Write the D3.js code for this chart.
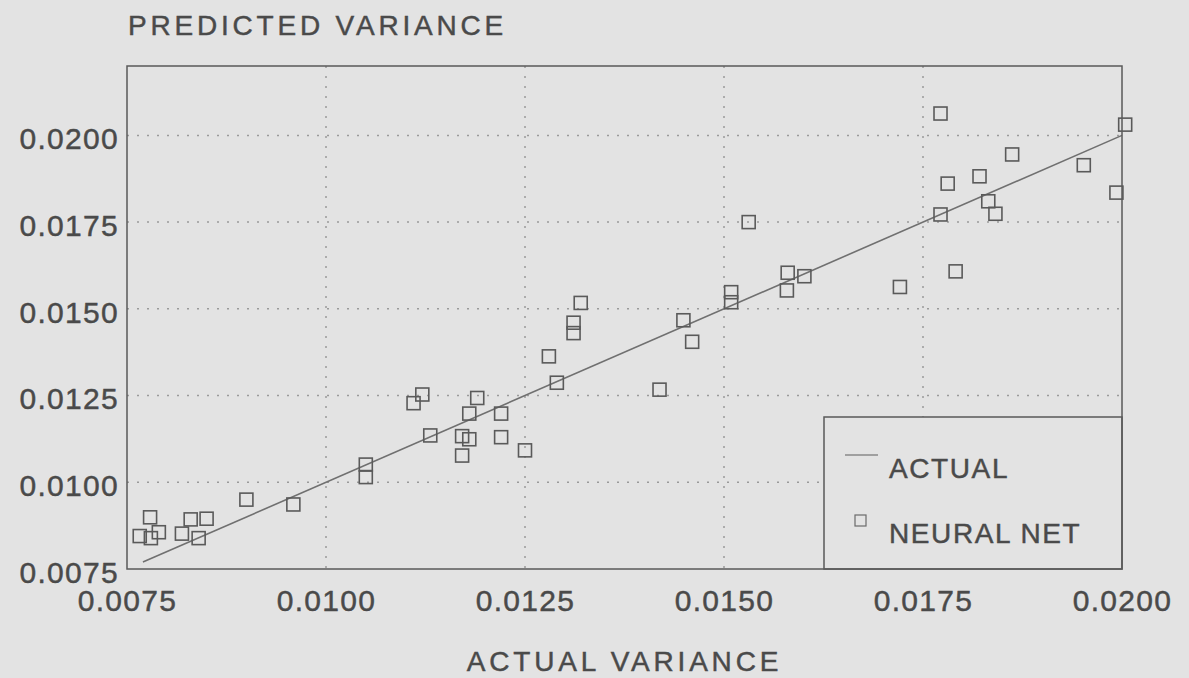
<!DOCTYPE html>
<html lang="en">
<head>
	<meta charset="UTF-8">
	<title>Predicted vs Actual Variance</title>
	<script src="https://cdn.jsdelivr.net/npm/d3@7"></script>
	<style>
		html, body {
			margin: 0;
			padding: 0;
			background: #e3e3e3;
		}

		svg text {
			font-family: "Liberation Sans", Arial, sans-serif;
			fill: #4a4a4a;
			stroke: #4a4a4a;
			stroke-width: 0.45px;
		}

		.tick text {
			font-size: 30px;
			letter-spacing: 1.3px;
		}

		.axis-title {
			font-size: 28px;
			letter-spacing: 3.8px;
		}

		.legend text {
			font-size: 28px;
			letter-spacing: 1.6px;
		}
	</style>
</head>
<body>
<div id="viz"></div>

<script type="text/javascript">
	// values
	let actualVar = [0.00766, 0.00779, 0.00780, 0.00790, 0.00819, 0.00830, 0.00840, 0.00850, 0.00900, 0.00959,
		0.01050, 0.01050, 0.01110, 0.01121, 0.01131, 0.01171, 0.01171, 0.01180, 0.01180, 0.01190,
		0.01220, 0.01220, 0.01250, 0.01280, 0.01290, 0.01311, 0.01311, 0.01320, 0.01419, 0.01449,
		0.01460, 0.01509, 0.01509, 0.01531, 0.01579, 0.01580, 0.01601, 0.01721, 0.01772, 0.01772,
		0.01781, 0.01791, 0.01821, 0.01832, 0.01841, 0.01862, 0.01952, 0.01993, 0.02004];

	let predictedVar = [0.00845, 0.00899, 0.00839, 0.00856, 0.00852, 0.00893, 0.00839, 0.00895, 0.00950, 0.00936,
		0.01051, 0.01015, 0.01228, 0.01253, 0.01135, 0.01133, 0.01077, 0.01198, 0.01124, 0.01243,
		0.01198, 0.01130, 0.01092, 0.01363, 0.01287, 0.01460, 0.01430, 0.01517, 0.01267, 0.01467,
		0.01405, 0.01548, 0.01519, 0.01750, 0.01553, 0.01604, 0.01594, 0.01563, 0.02063, 0.01772,
		0.01861, 0.01608, 0.01882, 0.01810, 0.01774, 0.01945, 0.01914, 0.01835, 0.02031];

	// the "actual" line is y = x between these two values
	let lineEnds = [0.0077, 0.0200];

	let xTicks = [0.0075, 0.0100, 0.0125, 0.0150, 0.0175, 0.0200];
	let yTicks = [0.0075, 0.0100, 0.0125, 0.0150, 0.0175, 0.0200];
	let xDomain = [0.0075, 0.0200];
	let yDomain = [0.0075, 0.0220];

	let legendLabels = ['ACTUAL', 'NEURAL NET'];
	let xTitle = 'ACTUAL VARIANCE',
		yTitle = 'PREDICTED VARIANCE';

	window.onload = () => {

		let margin = {top: 66, left: 127, bottom: 109, right: 67};
		let fullW = 1189, fullH = 678;
		let width = fullW - margin.left - margin.right;
		let height = fullH - margin.top - margin.bottom;

		let ink = '#5a5a5a';

		let x = d3.scaleLinear()
			.domain(xDomain)
			.range([0, width]);

		let y = d3.scaleLinear()
			.domain(yDomain)
			.range([height, 0]);

		let fmt = d3.format('.4f');

		let svg = d3.select('#viz')
			.append('svg')
			.attr('width', fullW)
			.attr('height', fullH);

		svg.append('rect')
			.attr('width', fullW)
			.attr('height', fullH)
			.attr('fill', '#e3e3e3');

		let g = svg.append('g')
			.attr('transform', 'translate(' + margin.left + ',' + margin.top + ')');

		// dotted grid
		g.selectAll('.vgrid')
			.data(xTicks.slice(1, -1))
			.enter().append('line')
			.attr('class', 'vgrid')
			.attr('x1', (d) => x(d))
			.attr('x2', (d) => x(d))
			.attr('y1', 0)
			.attr('y2', height)
			.attr('stroke', '#9a9a9a')
			.attr('stroke-width', 1.5)
			.attr('stroke-dasharray', '2,8');

		g.selectAll('.hgrid')
			.data(yTicks.slice(1))
			.enter().append('line')
			.attr('class', 'hgrid')
			.attr('x1', 0)
			.attr('x2', width)
			.attr('y1', (d) => y(d))
			.attr('y2', (d) => y(d))
			.attr('stroke', '#9a9a9a')
			.attr('stroke-width', 1.5)
			.attr('stroke-dasharray', '2,8');

		// axes (labels only, frame drawn separately)
		let xAxis = d3.axisBottom(x)
			.tickValues(xTicks)
			.tickFormat(fmt)
			.tickSize(0)
			.tickPadding(21);

		let yAxis = d3.axisLeft(y)
			.tickValues(yTicks)
			.tickFormat(fmt)
			.tickSize(0)
			.tickPadding(8);

		let gx = g.append('g')
			.attr('transform', 'translate(0,' + height + ')')
			.call(xAxis);
		gx.select('.domain').remove();
		gx.selectAll('text').attr('fill', '#4a4a4a');
		gx.attr('font-family', null).attr('font-size', null);

		let gy = g.append('g')
			.call(yAxis);
		gy.select('.domain').remove();
		gy.selectAll('text')
			.attr('dy', '0.44em')
			.attr('fill', '#4a4a4a');
		gy.attr('font-family', null).attr('font-size', null);

		// y = x reference line
		let line = d3.line()
			.x((d) => x(d))
			.y((d) => y(d));

		g.append('path')
			.datum(lineEnds)
			.attr('d', line)
			.attr('fill', 'none')
			.attr('stroke', '#707070')
			.attr('stroke-width', 1.6);

		// neural net points
		let s = 13;
		g.selectAll('.dot')
			.data(actualVar.map((a, i) => ({a: a, p: predictedVar[i]})))
			.enter().append('rect')
			.attr('class', 'dot')
			.attr('x', (d) => x(d.a) - s / 2)
			.attr('y', (d) => y(d.p) - s / 2)
			.attr('width', s)
			.attr('height', s)
			.attr('fill', 'none')
			.attr('stroke', ink)
			.attr('stroke-width', 1.6);

		// legend box in the lower right corner
		let lw = 298, lh = 152;
		let legend = g.append('g')
			.attr('class', 'legend')
			.attr('transform', 'translate(' + (width - lw) + ',' + (height - lh) + ')');

		legend.append('rect')
			.attr('width', lw)
			.attr('height', lh)
			.attr('fill', '#e3e3e3')
			.attr('stroke', ink)
			.attr('stroke-width', 1.5);

		legend.append('line')
			.attr('x1', 21)
			.attr('x2', 54)
			.attr('y1', 38)
			.attr('y2', 38)
			.attr('stroke', '#8a8a8a')
			.attr('stroke-width', 1.3);

		legend.append('rect')
			.attr('x', 31)
			.attr('y', 98)
			.attr('width', 11)
			.attr('height', 11)
			.attr('fill', 'none')
			.attr('stroke', '#6a6a6a')
			.attr('stroke-width', 1.2);

		legend.selectAll('.lab')
			.data(legendLabels)
			.enter().append('text')
			.attr('class', 'lab')
			.attr('x', 65)
			.attr('y', (d, i) => 61 + i * 65)
			.text((d) => d);

		// frame
		g.append('rect')
			.attr('width', width)
			.attr('height', height)
			.attr('fill', 'none')
			.attr('stroke', ink)
			.attr('stroke-width', 1.5);

		// titles
		svg.append('text')
			.attr('class', 'axis-title')
			.attr('x', margin.left + 1)
			.attr('y', 35)
			.text(yTitle);

		svg.append('text')
			.attr('class', 'axis-title')
			.attr('x', margin.left + width / 2)
			.attr('y', 671)
			.attr('text-anchor', 'middle')
			.text(xTitle);
	};
</script>
</body>
</html>
